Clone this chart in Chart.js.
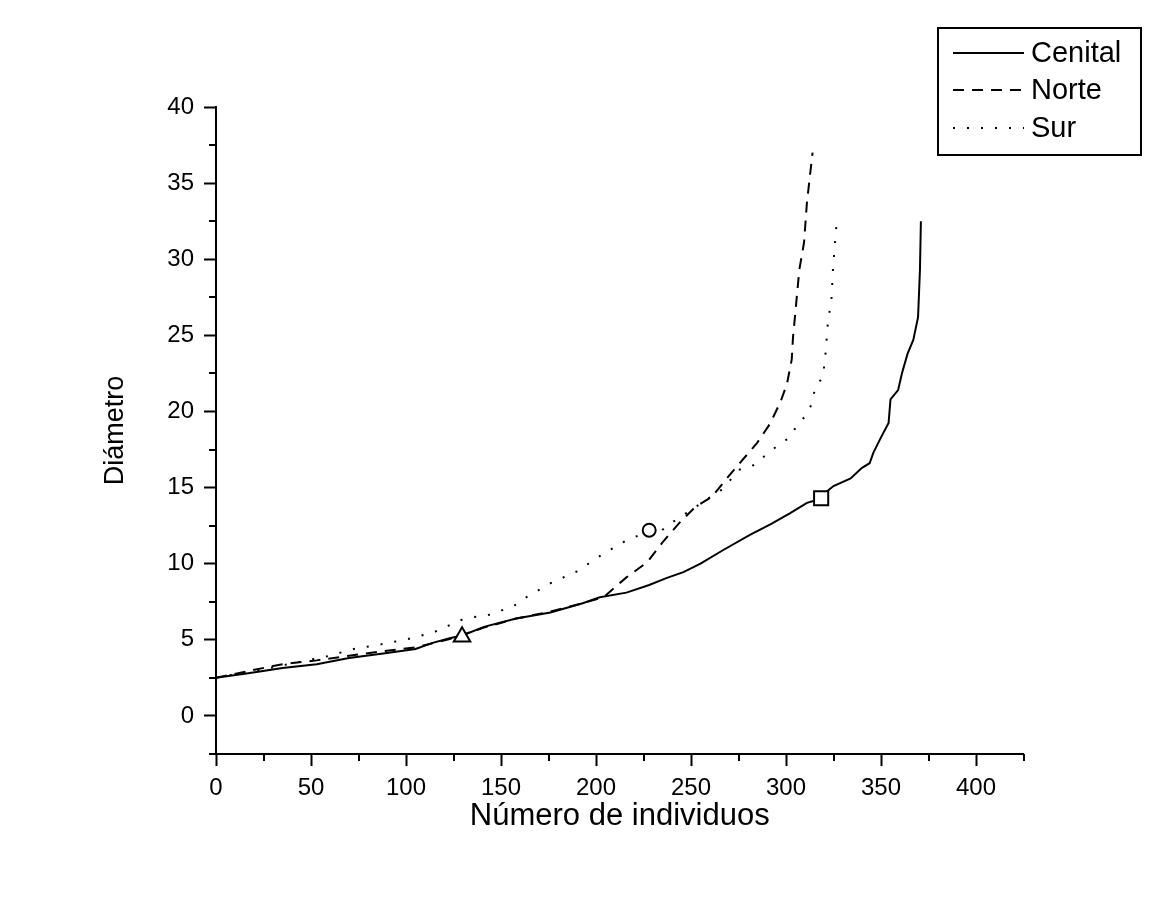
<!DOCTYPE html>
<html>
<head>
<meta charset="utf-8">
<script src="https://cdn.jsdelivr.net/npm/chart.js@4/dist/chart.umd.min.js"></script>
<style>
  html, body { margin:0; padding:0; background:#fff; }
  canvas { display:block; }
</style>
</head>
<body>
<canvas id="chart" width="1169" height="897"></canvas>
<script>
// curve values (x = individual rank, y = diameter)
const seriesNames = ['Cenital', 'Norte', 'Sur'];

const cenitalX = [0, 17, 35, 53, 70, 88, 105, 114, 123, 130, 141, 158, 176, 193, 202, 216, 228, 237, 246, 255, 267, 281, 292, 302, 311, 318, 321, 325, 334, 340, 344, 346, 350, 354, 355, 359, 361, 364, 367, 369.5, 370.5, 371];
const cenitalY = [2.5, 2.8, 3.15, 3.4, 3.8, 4.1, 4.4, 4.8, 5.1, 5.3, 5.85, 6.4, 6.8, 7.4, 7.8, 8.1, 8.6, 9.05, 9.45, 10.0, 10.9, 11.9, 12.6, 13.3, 14.0, 14.25, 14.7, 15.1, 15.6, 16.3, 16.6, 17.3, 18.3, 19.25, 20.8, 21.4, 22.5, 23.8, 24.7, 26.2, 29.3, 32.5];

const norteX = [0, 17, 35, 53, 70, 88, 105, 123, 141, 158, 176, 193, 204, 216, 227, 235, 244, 252, 261, 269.5, 277, 284.6, 291.6, 297, 300.5, 303, 303.7, 304.7, 307, 309.5, 311, 313.7, 314];
const norteY = [2.5, 2.95, 3.4, 3.65, 3.95, 4.25, 4.5, 5.05, 5.8, 6.4, 6.85, 7.4, 7.8, 9.1, 10.1, 11.4, 12.7, 13.7, 14.4, 15.7, 16.8, 17.9, 19.2, 20.6, 21.8, 23.4, 24.9, 26.2, 29.3, 31.1, 33.7, 36.7, 37.0];

const surX = [0, 10, 22.6, 43.7, 58, 72.6, 86.8, 101, 114.7, 129, 135.8, 142.6, 156.5, 162.6, 175.8, 190, 202, 214, 220.5, 228, 234.7, 240.5, 266, 275.8, 283.7, 288, 295, 302, 305.8, 311, 313.7, 315.3, 319.5, 321, 322, 324, 324.7, 325.8, 327];
const surY = [2.5, 2.75, 3.0, 3.55, 3.9, 4.4, 4.7, 5.05, 5.5, 6.3, 6.5, 6.6, 7.2, 7.75, 8.7, 9.5, 10.5, 11.4, 11.75, 12.2, 12.2, 12.75, 14.85, 16.2, 16.5, 17.0, 17.7, 18.3, 19.1, 19.8, 20.55, 21.55, 22.3, 24.05, 25.8, 27.5, 29.3, 31.1, 32.9];

// the three open markers
const markerX = [129.5, 228, 318.5];
const markerY = [5.2, 12.2, 14.3];
const markerStyles = ['triangle', 'circle', 'rect'];

// axes
const xMin = 0, xMax = 425, xStep = 25, xLabelEvery = 50;
const yMin = -2.5, yMax = 40, yStep = 2.5, yLabelEvery = 5;

const FONT = "'Liberation Sans', Arial, sans-serif";
const lineDashes = [[], [11, 8], [2, 12]];

function pts(xs, ys){ return xs.map((x,i)=>({x:x, y:ys[i]})); }
function isMajor(v, every){ return Math.abs(v / every - Math.round(v / every)) < 1e-6; }

const lineSets = [[cenitalX,cenitalY],[norteX,norteY],[surX,surY]].map((s,i)=>({
    label: seriesNames[i],
    data: pts(s[0], s[1]),
    borderColor: '#000',
    borderWidth: 2,
    borderDash: lineDashes[i],
    pointRadius: 0,
    fill: false,
    tension: 0
}));

const markerSets = markerX.map((x,i)=>({
    label: '',
    data: [{x:x, y:markerY[i]}],
    showLine: false,
    pointStyle: markerStyles[i],
    pointRadius: markerStyles[i]==='circle' ? 6.5 : (markerStyles[i]==='rect' ? 10 : 9.5),
    pointBorderWidth: 2,
    pointBorderColor: '#000',
    pointBackgroundColor: '#fff',
    order: -1
}));

// short minor ticks (Chart.js only draws one tick length)
const minorTicks = {
    id: 'minorTicks',
    afterDraw(chart){
        const ctx = chart.ctx, xs = chart.scales.x, ys = chart.scales.y;
        const area = chart.chartArea;
        ctx.save();
        ctx.strokeStyle = '#000';
        ctx.lineWidth = 2;
        ctx.beginPath();
        for (let v = xMin; v <= xMax + 1e-6; v += xStep){
            if (isMajor(v, xLabelEvery)) continue;
            const px = Math.round(xs.getPixelForValue(v));
            ctx.moveTo(px, area.bottom); ctx.lineTo(px, area.bottom + 7);
        }
        for (let v = yMin; v <= yMax + 1e-6; v += yStep){
            if (isMajor(v, yLabelEvery)) continue;
            const py = Math.round(ys.getPixelForValue(v));
            ctx.moveTo(area.left, py); ctx.lineTo(area.left - 7, py);
        }
        ctx.stroke();
        ctx.restore();
    }
};

// boxed legend in the top right corner
const boxLegend = {
    id: 'boxLegend',
    afterDraw(chart){
        const ctx = chart.ctx;
        const bx = 938, by = 28, bw = 203, bh = 127;
        ctx.save();
        ctx.strokeStyle = '#000';
        ctx.lineWidth = 2;
        ctx.strokeRect(bx, by, bw, bh);
        ctx.font = '29px ' + FONT;
        ctx.fillStyle = '#000';
        ctx.textBaseline = 'middle';
        const rows = [53, 90, 128];
        for (let i = 0; i < 3; i++){
            const ds = chart.data.datasets[i];
            ctx.setLineDash(ds.borderDash);
            ctx.beginPath();
            ctx.moveTo(953, rows[i]); ctx.lineTo(1024, rows[i]);
            ctx.stroke();
            ctx.setLineDash([]);
            ctx.fillText(ds.label, 1031, rows[i] + 1);
        }
        ctx.restore();
    }
};

const tickColor = every => c => (c.tick && isMajor(c.tick.value, every)) ? '#000' : 'rgba(0,0,0,0)';

new Chart(document.getElementById('chart').getContext('2d'), {
    type: 'line',
    data: { datasets: lineSets.concat(markerSets) },
    options: {
        responsive: false,
        animation: false,
        devicePixelRatio: 1,
        layout: { padding: { left: 99, top: 107, right: 145.5, bottom: 62 } },
        plugins: { legend: { display: false }, tooltip: { enabled: false } },
        scales: {
            x: {
                type: 'linear', min: xMin, max: xMax,
                border: { display: true, color: '#000', width: 2 },
                grid: { drawOnChartArea: false, drawTicks: true, tickLength: 12, tickWidth: 2, tickColor: tickColor(xLabelEvery) },
                ticks: { stepSize: xStep, autoSkip: false, maxRotation: 0, padding: 8, color: '#000',
                         font: { family: FONT, size: 24 },
                         callback: v => isMajor(v, xLabelEvery) ? String(v) : '' },
                title: { display: true, text: 'Número de individuos', color: '#000',
                         font: { family: FONT, size: 31, lineHeight: 1.2 }, padding: 0 },
                afterFit: s => { s.height = 81; }
            },
            y: {
                type: 'linear', min: yMin, max: yMax,
                border: { display: true, color: '#000', width: 2 },
                grid: { drawOnChartArea: false, drawTicks: true, tickLength: 12, tickWidth: 2, tickColor: tickColor(yLabelEvery) },
                ticks: { stepSize: yStep, autoSkip: false, padding: 10, color: '#000',
                         font: { family: FONT, size: 24 },
                         callback: v => isMajor(v, yLabelEvery) ? String(v) : '' },
                title: { display: true, text: 'Diámetro', color: '#000',
                         font: { family: FONT, size: 27, lineHeight: 1.2 }, padding: 0 },
                afterFit: s => { s.width = 117; }
            }
        }
    },
    plugins: [minorTicks, boxLegend]
});
</script>
</body>
</html>
